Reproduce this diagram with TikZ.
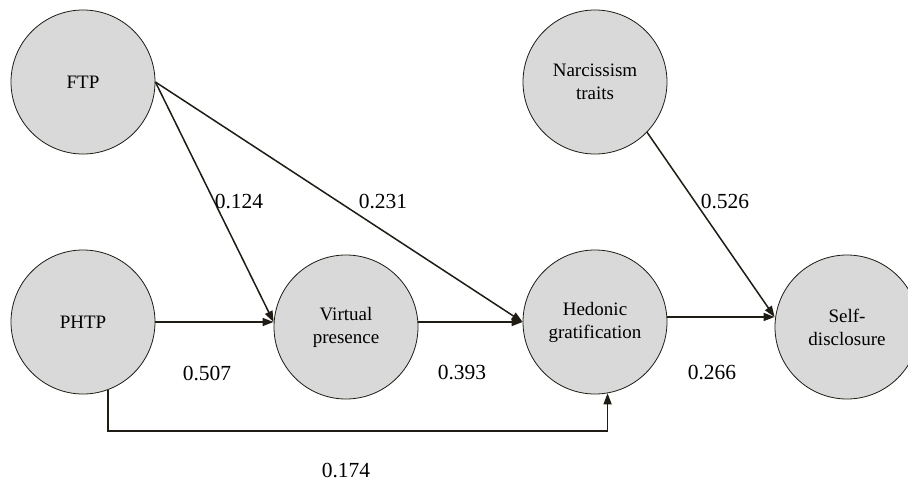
\documentclass[tikz,border=0pt]{standalone}
\usepackage{fontspec}
\setmainfont{Liberation Serif}
\usetikzlibrary{positioning,arrows.meta,calc}
\definecolor{circfill}{RGB}{217,217,217}
\definecolor{inkline}{RGB}{30,28,20}
\tikzset{
  latent/.style={circle, draw=inkline, fill=circfill, line width=0.8pt,
    minimum size=144pt, inner sep=0pt, align=center,
    font=\fontsize{19}{23}\selectfont},
  path/.style={draw=inkline, line width=1.5pt,
    -{Triangle[length=11pt,width=8pt]}},
  coef/.style={font=\fontsize{21.5}{25}\selectfont, inner sep=0pt}
}

\begin{document}
\begin{tikzpicture}[x=1pt, y=-1pt]
    \clip (0,0) rectangle (908,482);
    \fill[white] (0,0) rectangle (908,482);

    \node[latent] (FTP)  at (83,82)   {FTP};
    \node[latent] (PHTP) at (83,322)  {PHTP};
    \node[latent] (VP)   at (346,327) {Virtual\\presence};
    \node[latent] (HG)   at (595,322) {Hedonic\\gratification};
    \node[latent] (NT)   at (595,82)  {Narcissism\\traits};
    \node[latent] (SD)   at (847,327) {Self-\\disclosure};

    \coordinate (low) at (346,431);

    \draw[path] (FTP.east) -- (PHTP.east -| VP.west);
    \draw[path] (FTP.east) -- (HG.west);
    \draw[path] (PHTP.east) -- (PHTP.east -| VP.west);
    \draw[path] (PHTP.east -| VP.east) -- (HG.west);
    \draw[path] (HG.4) -- (HG.4 -| SD.west);
    \draw[path] (NT.-44) -- (HG.4 -| SD.west);
    \draw[path] (PHTP.-70) |- (low) -| (HG.-80);

    % path coefficients
    \node[coef] (c124) at (239,201) {0.124};
    \node[coef] (c231) at (383,201) {0.231};
    \node[coef] (c526) at (725,201) {0.526};
    \node[coef] (c507) at (207,373) {0.507};
    \node[coef] (c393) at (462,372) {0.393};
    \node[coef] (c266) at (712,372) {0.266};
    \node[coef] (c174) at (346,470) {0.174};
\end{tikzpicture}
\end{document}
